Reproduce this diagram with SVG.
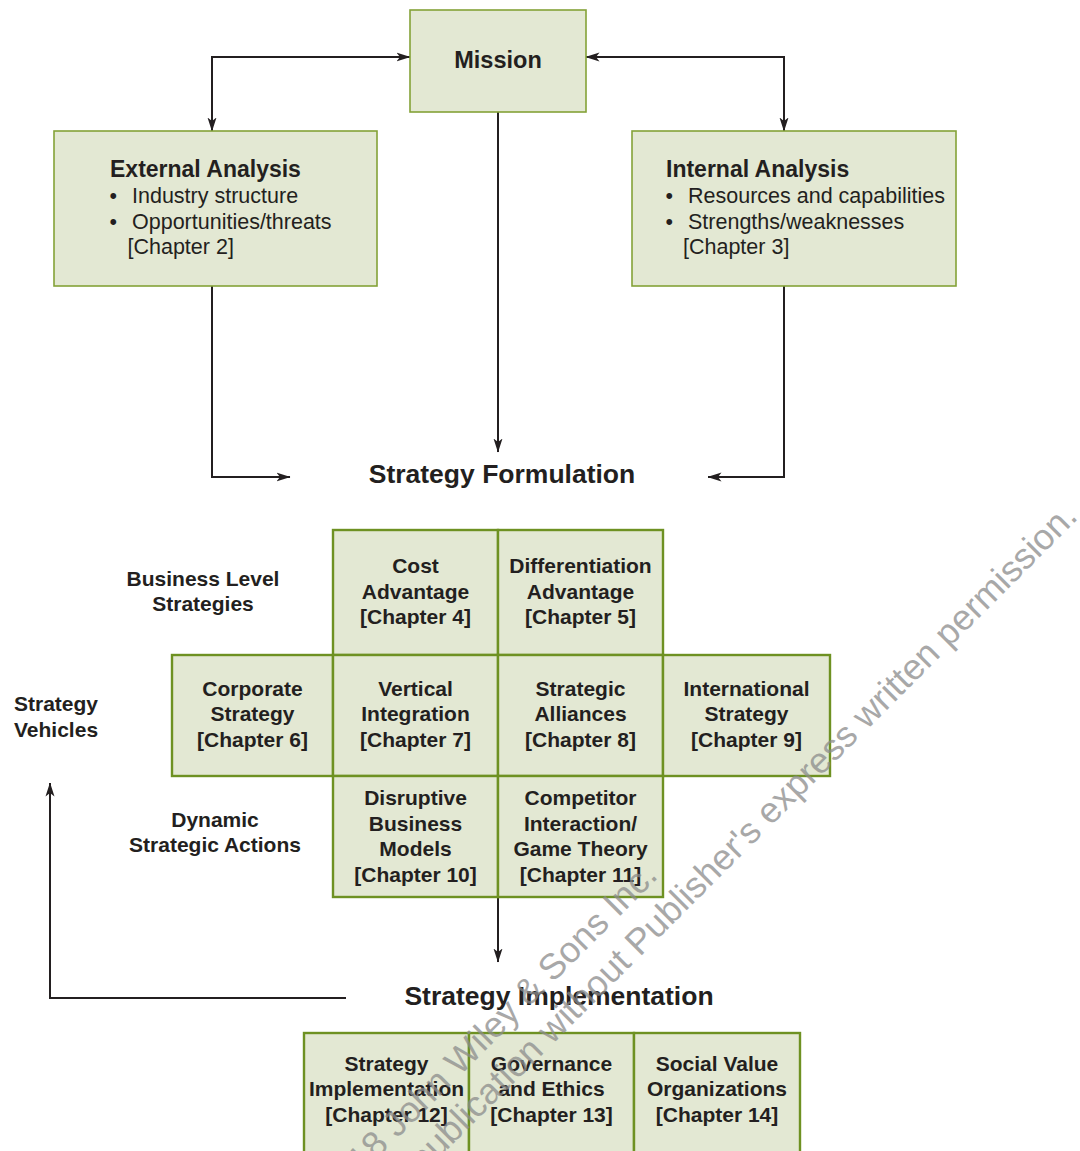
<svg xmlns="http://www.w3.org/2000/svg" width="1080" height="1151" viewBox="0 0 1080 1151">
<style>
  text { font-family: "Liberation Sans", Arial, Helvetica, sans-serif; fill: #231f20; }
  .box { fill: #e3e8d3; stroke: #84a238; stroke-width: 1.6; }
  .cell { fill: #e3e8d3; stroke: #6e9122; stroke-width: 2.4; }
  .title { font-size: 23px; font-weight: bold; }
  .body { font-size: 21.5px; }
  .ct { font-size: 21px; font-weight: bold; text-anchor: middle; }
  .lbl { font-size: 21px; font-weight: bold; }
  .head { font-size: 26.5px; font-weight: bold; text-anchor: middle; }
  .conn { fill: none; stroke: #231f20; stroke-width: 2; }
  .wm { font-size: 36px; fill: #8c8c8c; opacity: 0.75; text-anchor: end; }
</style>
<defs>
  <marker id="ah" viewBox="0 0 14 10" refX="13.5" refY="5" markerWidth="14" markerHeight="10" markerUnits="userSpaceOnUse" orient="auto-start-reverse">
    <path d="M0,0.5 L14,5 L0,9.5 L3.5,5 z" fill="#231f20"/>
  </marker>
</defs>
<rect width="1080" height="1151" fill="#ffffff"/>

<g id="connectors">
  <path class="conn" d="M212,131 V57 H410" marker-start="url(#ah)" marker-end="url(#ah)"/>
  <path class="conn" d="M784,131 V57 H586" marker-start="url(#ah)" marker-end="url(#ah)"/>
  <path class="conn" d="M498,112 V452" marker-end="url(#ah)"/>
  <path class="conn" d="M212,286 V477 H290" marker-end="url(#ah)"/>
  <path class="conn" d="M784,286 V477 H708" marker-end="url(#ah)"/>
  <path class="conn" d="M498,897 V962" marker-end="url(#ah)"/>
  <path class="conn" d="M346,998 H50 V783" marker-end="url(#ah)"/>
</g>

<g id="mission">
  <rect class="box" x="410" y="10" width="176" height="102"/>
  <text x="498" y="68" text-anchor="middle" style="font-size:23.5px;font-weight:bold">Mission</text>
</g>

<g id="external-analysis">
  <rect class="box" x="54" y="131" width="323" height="155"/>
  <text class="title" x="110" y="177">External Analysis</text>
  <text class="body"><tspan x="109.5" y="203">•</tspan><tspan x="132" y="203">Industry structure</tspan></text>
  <text class="body"><tspan x="109.5" y="229">•</tspan><tspan x="132" y="229">Opportunities/threats</tspan></text>
  <text class="body" x="127.5" y="254">[Chapter 2]</text>
</g>

<g id="internal-analysis">
  <rect class="box" x="632" y="131" width="324" height="155"/>
  <text class="title" x="666" y="177">Internal Analysis</text>
  <text class="body"><tspan x="665.5" y="203">•</tspan><tspan x="688" y="203">Resources and capabilities</tspan></text>
  <text class="body"><tspan x="665.5" y="229">•</tspan><tspan x="688" y="229">Strengths/weaknesses</tspan></text>
  <text class="body" x="683" y="254">[Chapter 3]</text>
</g>

<g id="strategy-formulation">
  <text class="head" x="502" y="483">Strategy Formulation</text>
</g>

<g id="label-business-level">
  <text class="lbl" text-anchor="middle"><tspan x="203" y="586">Business Level</tspan><tspan x="203" y="611">Strategies</tspan></text>
</g>
<g id="label-strategy-vehicles">
  <text class="lbl"><tspan x="14" y="711">Strategy</tspan><tspan x="14" y="737">Vehicles</tspan></text>
</g>
<g id="label-dynamic">
  <text class="lbl" text-anchor="middle"><tspan x="215" y="827">Dynamic</tspan><tspan x="215" y="852">Strategic Actions</tspan></text>
</g>

<g id="cost-advantage">
  <rect class="cell" x="333" y="530" width="165" height="125"/>
  <text class="ct"><tspan x="415.5" y="573">Cost</tspan><tspan x="415.5" y="599">Advantage</tspan><tspan x="415.5" y="624">[Chapter 4]</tspan></text>
</g>
<g id="differentiation-advantage">
  <rect class="cell" x="498" y="530" width="165" height="125"/>
  <text class="ct"><tspan x="580.5" y="573">Differentiation</tspan><tspan x="580.5" y="599">Advantage</tspan><tspan x="580.5" y="624">[Chapter 5]</tspan></text>
</g>
<g id="corporate-strategy">
  <rect class="cell" x="172" y="655" width="161" height="121"/>
  <text class="ct"><tspan x="252.5" y="696">Corporate</tspan><tspan x="252.5" y="721">Strategy</tspan><tspan x="252.5" y="747">[Chapter 6]</tspan></text>
</g>
<g id="vertical-integration">
  <rect class="cell" x="333" y="655" width="165" height="121"/>
  <text class="ct"><tspan x="415.5" y="696">Vertical</tspan><tspan x="415.5" y="721">Integration</tspan><tspan x="415.5" y="747">[Chapter 7]</tspan></text>
</g>
<g id="strategic-alliances">
  <rect class="cell" x="498" y="655" width="165" height="121"/>
  <text class="ct"><tspan x="580.5" y="696">Strategic</tspan><tspan x="580.5" y="721">Alliances</tspan><tspan x="580.5" y="747">[Chapter 8]</tspan></text>
</g>
<g id="international-strategy">
  <rect class="cell" x="663" y="655" width="167" height="121"/>
  <text class="ct"><tspan x="746.5" y="696">International</tspan><tspan x="746.5" y="721">Strategy</tspan><tspan x="746.5" y="747">[Chapter 9]</tspan></text>
</g>
<g id="disruptive-business-models">
  <rect class="cell" x="333" y="776" width="165" height="121"/>
  <text class="ct"><tspan x="415.5" y="805">Disruptive</tspan><tspan x="415.5" y="830.5">Business</tspan><tspan x="415.5" y="856">Models</tspan><tspan x="415.5" y="881.5">[Chapter 10]</tspan></text>
</g>
<g id="competitor-interaction">
  <rect class="cell" x="498" y="776" width="165" height="121"/>
  <text class="ct"><tspan x="580.5" y="805">Competitor</tspan><tspan x="580.5" y="830.5">Interaction/</tspan><tspan x="580.5" y="856">Game Theory</tspan><tspan x="580.5" y="881.5">[Chapter 11]</tspan></text>
</g>

<g id="strategy-implementation">
  <text class="head" x="559" y="1005">Strategy Implementation</text>
</g>

<g id="strategy-implementation-ch12">
  <rect class="cell" x="304" y="1033" width="165" height="130"/>
  <text class="ct"><tspan x="386.5" y="1071">Strategy</tspan><tspan x="386.5" y="1096">Implementation</tspan><tspan x="386.5" y="1122">[Chapter 12]</tspan></text>
</g>
<g id="governance-ethics">
  <rect class="cell" x="469" y="1033" width="165" height="130"/>
  <text class="ct"><tspan x="551.5" y="1071">Governance</tspan><tspan x="551.5" y="1096">and Ethics</tspan><tspan x="551.5" y="1122">[Chapter 13]</tspan></text>
</g>
<g id="social-value-organizations">
  <rect class="cell" x="634" y="1033" width="166" height="130"/>
  <text class="ct"><tspan x="717" y="1071">Social Value</tspan><tspan x="717" y="1096">Organizations</tspan><tspan x="717" y="1122">[Chapter 14]</tspan></text>
</g>

<g id="watermark">
  <text class="wm" transform="translate(659,877) rotate(-45)">© 2018 John Wiley &amp; Sons Inc.</text>
  <text class="wm" transform="translate(1079,518) rotate(-45)">publication without Publisher's express written permission.</text>
</g>
</svg>
